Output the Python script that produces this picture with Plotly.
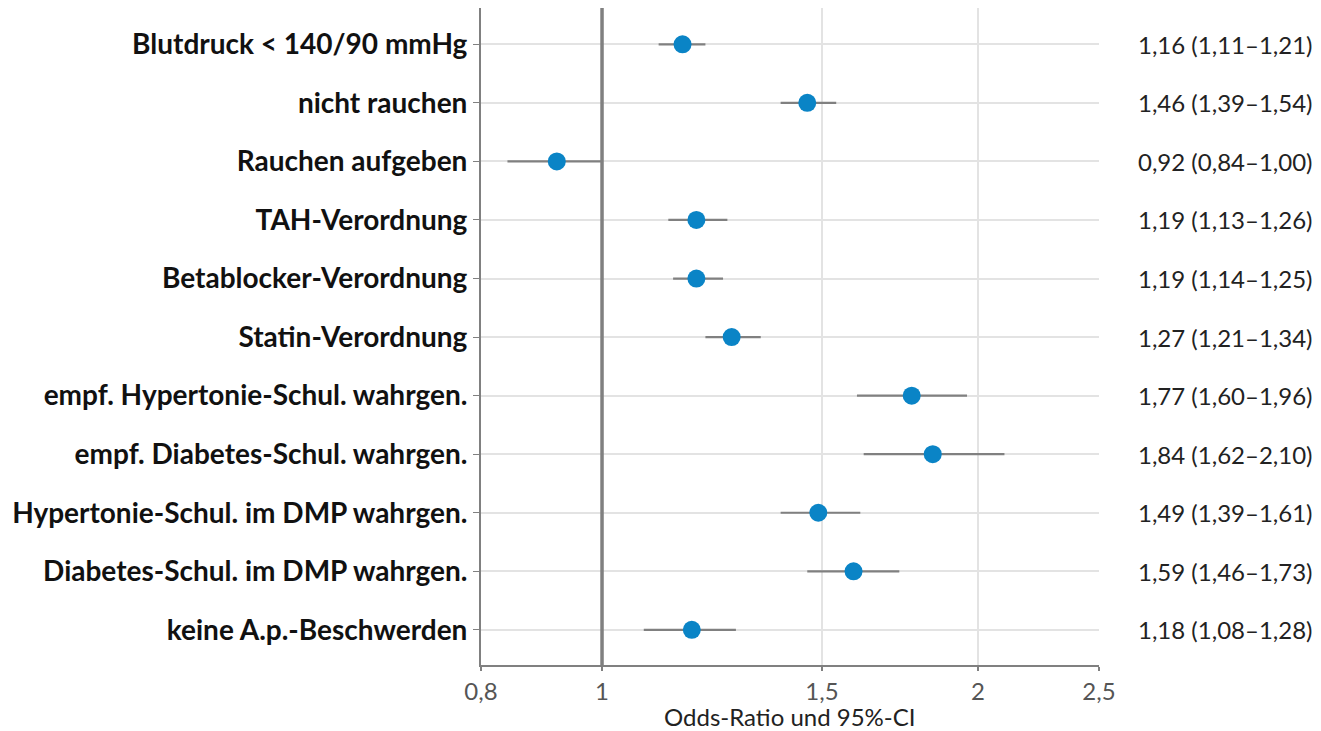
import plotly.graph_objects as go

categories = [
    "Blutdruck < 140/90 mmHg",
    "nicht rauchen",
    "Rauchen aufgeben",
    "TAH-Verordnung",
    "Betablocker-Verordnung",
    "Statin-Verordnung",
    "empf. Hypertonie-Schul. wahrgen.",
    "empf. Diabetes-Schul. wahrgen.",
    "Hypertonie-Schul. im DMP wahrgen.",
    "Diabetes-Schul. im DMP wahrgen.",
    "keine A.p.-Beschwerden",
]
odds_ratio = [1.16, 1.46, 0.92, 1.19, 1.19, 1.27, 1.77, 1.84, 1.49, 1.59, 1.18]
ci_low = [1.11, 1.39, 0.84, 1.13, 1.14, 1.21, 1.60, 1.62, 1.39, 1.46, 1.08]
ci_high = [1.21, 1.54, 1.00, 1.26, 1.25, 1.34, 1.96, 2.10, 1.61, 1.73, 1.28]
tick_vals = [0.8, 1, 1.5, 2, 2.5]
tick_text = ["0,8", "1", "1,5", "2", "2,5"]
x_title = "Odds-Ratio und 95%-CI"


def fmt(v):
    return f"{v:.2f}".replace(".", ",")


labels = [f"{fmt(o)} ({fmt(l)}–{fmt(h)})" for o, l, h in zip(odds_ratio, ci_low, ci_high)]

FONT = "Lato"
GREY = "#808080"

fig = go.Figure()
fig.add_trace(go.Scatter(
    x=odds_ratio,
    y=categories,
    mode="markers",
    marker=dict(size=18, color="#0A84C6"),
    error_x=dict(
        type="data", symmetric=False,
        array=[h - o for o, h in zip(odds_ratio, ci_high)],
        arrayminus=[o - l for o, l in zip(odds_ratio, ci_low)],
        color=GREY, thickness=2.2, width=0,
    ),
    showlegend=False,
    hoverinfo="skip",
))

fig.add_shape(type="line", xref="x", yref="paper", x0=1, x1=1, y0=0, y1=1,
              line=dict(color=GREY, width=3.5), layer="above")

for cat, lab in zip(categories, labels):
    fig.add_annotation(x=1.35, xref="paper", y=cat, yref="y", text=lab,
                       showarrow=False, xanchor="right",
                       font=dict(family=FONT, size=24, color="#222222"))

fig.add_annotation(x=0.5, xref="paper", y=-0.1, yref="paper", text=x_title,
                   showarrow=False, xanchor="center", yanchor="bottom",
                   height=25, valign="middle",
                   font=dict(family=FONT, size=24, color="#222222"))

fig.update_layout(
    width=1321, height=731,
    margin=dict(l=481, r=222, t=8, b=66),
    plot_bgcolor="white", paper_bgcolor="white",
    font=dict(family=FONT),
)
fig.update_xaxes(
    type="log",
    range=[-0.09691, 0.39794],
    tickvals=tick_vals, ticktext=tick_text,
    tickfont=dict(family=FONT, size=24, color="#555555"),
    showgrid=True, gridcolor="#e3e3e3", gridwidth=2,
    showline=True, linecolor=GREY, linewidth=2,
    ticks="outside", ticklen=4, tickcolor=GREY, tickwidth=2,
    zeroline=False, automargin=False,
)
fig.update_yaxes(
    categoryorder="array", categoryarray=categories,
    range=[10.6, -0.62],
    tickfont=dict(family=FONT, size=28, color="#111111", weight="bold"),
    showgrid=True, gridcolor="#e3e3e3", gridwidth=2,
    showline=True, linecolor=GREY, linewidth=2,
    ticks="outside", ticklen=6, tickcolor=GREY, tickwidth=1,
    zeroline=False, automargin=False,
)

fig.write_html("out.html")
